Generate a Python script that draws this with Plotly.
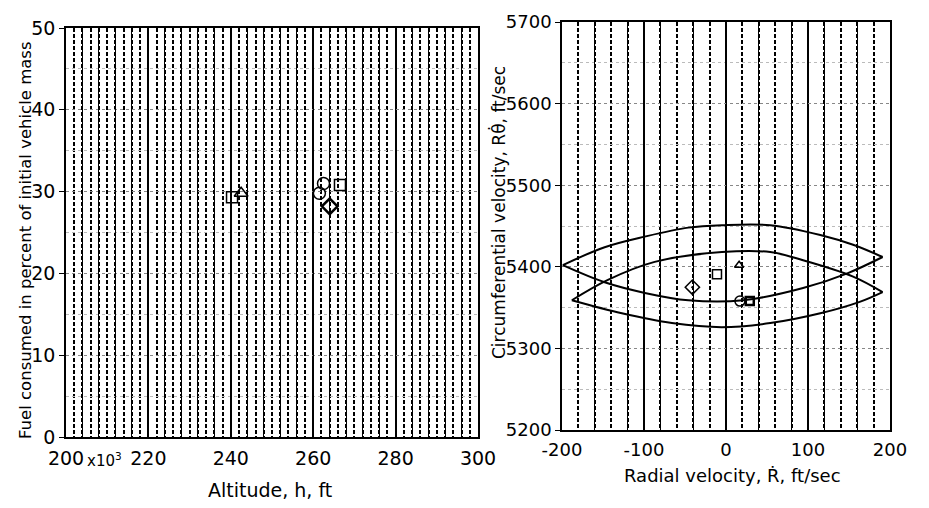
import plotly.graph_objects as go

# ---------------- data ----------------
# Left panel: altitude (x10^3 ft) vs fuel consumed (%)
alt_tri = [242.5]
fuel_tri = [29.8]
alt_sq = [240.3, 266.5]
fuel_sq = [29.3, 30.8]
alt_circ = [262.5, 261.5]
fuel_circ = [31.0, 29.8]
alt_dia = [264.0]
fuel_dia = [28.2]

left_xticks = [200, 220, 240, 260, 280, 300]
left_xtext = ["200", "220", "240", "260", "280", "300"]
left_yticks = [0, 10, 20, 30, 40, 50]

# Right panel: radial velocity vs circumferential velocity
lensA_up_x = [-199, -148, -99, -46, -5, 54, 115, 155, 191]
lensA_up_y = [5402, 5424, 5437, 5448, 5451, 5451, 5439, 5427, 5412]
lensA_lo_x = [-199, -148, -99, -46, 21, 94, 148, 191]
lensA_lo_y = [5402, 5381, 5368, 5359, 5359, 5374, 5392, 5412]
lensB_up_x = [-188, -144, -87, -5, 54, 94, 155, 191]
lensB_up_y = [5359, 5384, 5406, 5418, 5418, 5408, 5388, 5369]
lensB_lo_x = [-188, -127, -66, -5, 54, 115, 163, 191]
lensB_lo_y = [5359, 5343, 5331, 5326, 5331, 5343, 5357, 5369]

rv_tri, cv_tri = [16], [5402]
rv_sq, cv_sq = [-11], [5391]
rv_dia, cv_dia = [-41], [5375]
rv_circ, cv_circ = [17], [5358]
rv_sq2, cv_sq2 = [29], [5358]

right_xticks = [-200, -100, 0, 100, 200]
right_xtext = ["-200", "-100", "0", "100", "200"]
right_yticks = [5200, 5300, 5400, 5500, 5600, 5700]

# ---------------- figure ----------------
OFF = 8                    # default page body margin
W, H = 929 - 2 * OFF, 508 - 2 * OFF
FONT = "DejaVu Sans"
fig = go.Figure()

# dummy traces so the base axes exist
fig.add_trace(go.Scatter(x=[None], y=[None], xaxis="x", yaxis="y", showlegend=False, hoverinfo="skip"))
fig.add_trace(go.Scatter(x=[None], y=[None], xaxis="x2", yaxis="y2", showlegend=False, hoverinfo="skip"))

def mk(x, y, sym, size, xa, ya, lw=1.5):
    fig.add_trace(go.Scatter(x=x, y=y, mode="markers", xaxis=xa, yaxis=ya,
                             marker=dict(symbol=sym, size=size, color="black",
                                         line=dict(color="black", width=lw)),
                             showlegend=False, hoverinfo="skip"))

mk(alt_tri, fuel_tri, "triangle-up-open", 12, "x3", "y")
mk(alt_sq, fuel_sq, "square-open", 11, "x3", "y")
mk(alt_circ, fuel_circ, "circle-open", 12, "x3", "y")
mk(alt_dia, fuel_dia, "diamond-open", 12, "x3", "y", 2.5)

for xs, ys in [(lensA_up_x, lensA_up_y), (lensA_lo_x, lensA_lo_y),
               (lensB_up_x, lensB_up_y), (lensB_lo_x, lensB_lo_y)]:
    fig.add_trace(go.Scatter(x=xs, y=ys, mode="lines", xaxis="x4", yaxis="y2",
                             line=dict(color="black", width=2, shape="spline"),
                             showlegend=False, hoverinfo="skip"))

mk(rv_tri, cv_tri, "triangle-up-open", 8, "x4", "y2")
mk(rv_sq, cv_sq, "square-open", 9, "x4", "y2")
mk(rv_dia, cv_dia, "diamond-open-dot", 11, "x4", "y2")
mk(rv_circ, cv_circ, "circle-open", 10, "x4", "y2")
mk(rv_sq2, cv_sq2, "square-open", 8, "x4", "y2", 2.5)

def px(a, b):
    return [(a - OFF) / W, (b - OFF) / W]

def py(top, bottom):
    return [1 - (bottom - OFF) / H, 1 - (top - OFF) / H]

def ax_x(p):
    return (p - OFF) / W

def ax_y(p):
    return 1 - (p - OFF) / H

tickfont_l = dict(family=FONT, size=19, color="black")
tickfont_r = dict(family=FONT, size=18, color="black")
axline = dict(showline=True, linecolor="black", linewidth=1.5, mirror=True)
DASH = "4px,2px"

fig.update_layout(
    width=W, height=H, margin=dict(l=0, r=0, t=0, b=0),
    paper_bgcolor="white", plot_bgcolor="white", showlegend=False,
    xaxis=dict(domain=px(66, 478), range=[200, 300], tickvals=left_xticks,
               ticktext=left_xtext, tickfont=tickfont_l, ticks="", ticklen=0,
               showgrid=True, gridcolor="black", gridwidth=2,
               minor=dict(dtick=2, showgrid=True, gridcolor="black", gridwidth=2, griddash=DASH),
               zeroline=False, anchor="y", automargin=False, ticklabelstandoff=3, **axline),
    yaxis=dict(domain=py(28, 437), range=[0, 50], tickvals=left_yticks,
               tickfont=tickfont_l, ticks="outside", ticklen=5, tickcolor="black",
               showgrid=True, gridcolor="#888", gridwidth=1, griddash="dot",
               minor=dict(dtick=5, showgrid=True, gridcolor="#bbb", griddash="dot", gridwidth=1),
               zeroline=False, anchor="x", automargin=False, **axline),
    xaxis3=dict(overlaying="x", range=[200, 300], anchor="y", dtick=4,
                showticklabels=False, showgrid=True, gridcolor="black",
                gridwidth=1.2, zeroline=False, showline=False,
                automargin=False),
    xaxis2=dict(domain=px(562, 890), range=[-200, 200], tickvals=right_xticks,
                ticktext=right_xtext, tickfont=tickfont_r, ticks="", ticklen=0,
                showgrid=True, gridcolor="black", gridwidth=2,
                minor=dict(dtick=20, showgrid=True, gridcolor="black", gridwidth=2, griddash=DASH),
                zeroline=False, anchor="y2", automargin=False, ticklabelstandoff=3, **axline),
    yaxis2=dict(domain=py(22, 430), range=[5200, 5700], tickvals=right_yticks,
                tickfont=tickfont_r, ticks="outside", ticklen=5, tickcolor="black",
                showgrid=True, gridcolor="#888", gridwidth=1, griddash="dot",
                minor=dict(dtick=50, showgrid=True, gridcolor="#bbb", griddash="dot", gridwidth=1),
                zeroline=False, anchor="x2", automargin=False, **axline),
    xaxis4=dict(overlaying="x2", range=[-200, 200], anchor="y2", dtick=40,
                showticklabels=False, showgrid=True, gridcolor="black",
                gridwidth=1.2, zeroline=False, showline=False,
                automargin=False),
)

fig.add_annotation(text="x10<sup>3</sup>", xref="paper", yref="paper",
                   x=ax_x(85), y=ax_y(460), xanchor="left", yanchor="middle",
                   showarrow=False, font=dict(family=FONT, size=15, color="black"))
fig.add_annotation(text="Altitude, h, ft", xref="paper", yref="paper",
                   x=ax_x(270), y=ax_y(490), xanchor="center", yanchor="middle",
                   showarrow=False, font=dict(family=FONT, size=19, color="black"))
fig.add_annotation(text="Fuel consumed in percent of initial vehicle mass",
                   xref="paper", yref="paper", x=ax_x(25), y=ax_y(240),
                   xanchor="center", yanchor="middle", textangle=-90,
                   showarrow=False, font=dict(family=FONT, size=16.5, color="black"))
fig.add_annotation(text="Radial velocity, \u1E58, ft/sec", xref="paper", yref="paper",
                   x=ax_x(732), y=ax_y(475), xanchor="center", yanchor="middle",
                   showarrow=False, font=dict(family=FONT, size=18, color="black"))
fig.add_annotation(text="Circumferential velocity, R\u03B8\u0307, ft/sec",
                   xref="paper", yref="paper", x=ax_x(498), y=ax_y(213),
                   xanchor="center", yanchor="middle", textangle=-90,
                   showarrow=False, font=dict(family=FONT, size=17, color="black"))

fig.write_html("out.html")
